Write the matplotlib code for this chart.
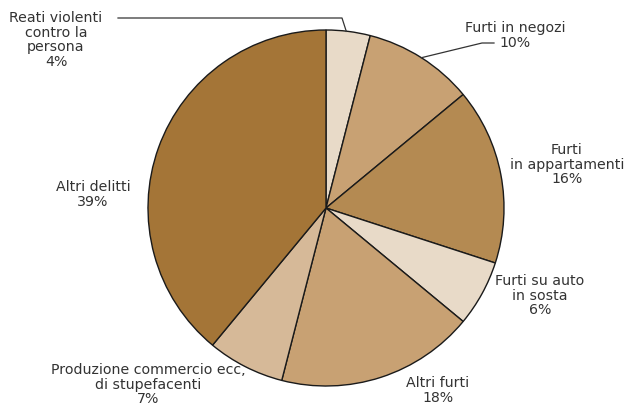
import numpy as np
import matplotlib.pyplot as plt

# Share of reported offences by type
labels = ['Reati violenti\ncontro la\npersona', 'Furti in negozi', 'Furti\nin appartamenti',
          'Furti su auto\nin sosta', 'Altri furti', 'Produzione commercio ecc,\ndi stupefacenti',
          'Altri delitti']
shares = [4, 10, 16, 6, 18, 7, 39]
colors = ['#e8dac8', '#c8a173', '#b48a52', '#e8dac8', '#c8a173', '#d6b998', '#a47537']

# text anchor (top of first line) in pixel coordinates, y measured from top
text_pos = [(56, 11), (515, 21), (567, 143), (540, 274), (438, 376), (148, 363), (93, 180)]

W, H = 624, 407
cx, cy, r = 326, H - 208, 178

fig = plt.figure(figsize=(W / 100, H / 100), dpi=100)
ax = fig.add_axes([0, 0, 1, 1])
ax.axis('off')

ax.pie(shares, colors=colors, startangle=90, counterclock=False, center=(cx, cy), radius=r,
       wedgeprops=dict(edgecolor='#1a1a1a', linewidth=1.0))
ax.set_xlim(0, W)
ax.set_ylim(0, H)
ax.set_aspect('equal')

for lab, val, (tx, ty) in zip(labels, shares, text_pos):
    ax.text(tx, H - ty, f'{lab}\n{val}%', ha='center', va='top', fontsize=10.2,
            color='#333333', linespacing=1.06, family='DejaVu Sans')

# leader lines for the two top slices
cum = np.cumsum(shares) - np.array(shares) / 2
def edge_point(i):
    ang = np.deg2rad(90 - 360 * cum[i] / 100)
    return cx + r * np.cos(ang), cy + r * np.sin(ang)

ex, ey = edge_point(0)
ax.plot([118, 342, ex - 2], [H - 18, H - 18, ey], color='#333333', lw=0.9)
ex, ey = edge_point(1)
ax.plot([ex, 482, 494], [ey, H - 43, H - 43], color='#333333', lw=0.9)

fig.savefig('out.png', dpi=100)
